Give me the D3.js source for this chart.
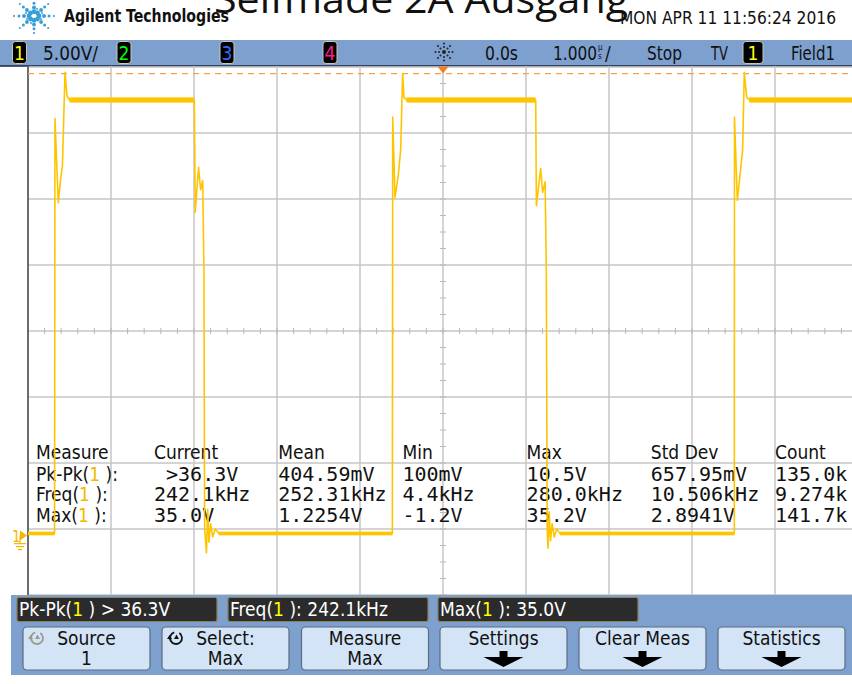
<!DOCTYPE html>
<html>
<head>
<meta charset="utf-8">
<script src="https://cdn.jsdelivr.net/npm/d3@7"></script>
<style>
  html, body { margin: 0; padding: 0; background: #fff; }
  svg { display: block; }
  .ui { font-family: 'Liberation Sans Narrow', 'Arial Narrow', 'DejaVu Sans Condensed', sans-serif; }
  .mono { font-family: 'DejaVu Sans Mono', 'Liberation Mono', monospace; white-space: pre; }
</style>
</head>
<body>
<div id="chart"></div>
<script>
// ---- data ----
var timeDivs = [-5, -4, -3, -2, -1, 0, 1, 2, 3, 4, 5];          // µs, 1 µs/div
var voltDivs = [-4.5, 0.5, 5.5, 10.5, 15.5, 20.5, 25.5, 30.5, 35.5]; // V, 5 V/div

// channel 1 trace (time in µs, volts)
var waveT = [-5.00, -4.68, -4.675, -4.635, -4.606, -4.585, -4.570, -4.554, -4.530, -4.500,
             -2.996, -2.985, -2.945, -2.920, -2.895, -2.880, -2.872, -2.850, -2.835, -2.820, -2.800, -2.775, -2.745, -2.700,
             -0.610, -0.606, -0.578, -0.539, -0.510, -0.486, -0.470, -0.440,
             1.117, 1.125, 1.177, 1.200, 1.230, 1.245, 1.255, 1.265, 1.280, 1.295, 1.315, 1.340, 1.370, 1.410,
             3.510, 3.512, 3.546, 3.578, 3.610, 3.630, 3.659, 3.690, 5.00];
var waveV = [0.15, 0.15, 31.6, 25.2, 27.1, 28.0, 31.5, 35.1, 33.3, 33.0,
             33.0, 24.5, 27.9, 26.2, 26.9, 20.0, 0.5, -1.3, 2.0, -0.5, 0.9, -0.1, 0.5, 0.15,
             0.15, 31.7, 25.6, 27.3, 29.2, 35.0, 33.2, 33.0,
             33.0, 25.0, 27.8, 26.0, 26.8, 20.0, 0.5, -0.95, 1.8, -0.4, 0.9, -0.1, 0.5, 0.15,
             0.15, 31.7, 25.4, 27.3, 29.2, 35.1, 33.2, 33.0, 33.0];

// noisy plateaus: [t start, t end, v low, v high]
var plateaus = [[-4.50, -3.00, 32.8, 33.2], [-0.44, 1.117, 32.8, 33.2], [3.69, 5.00, 32.8, 33.2],
                [-5.00, -4.68, 0.02, 0.30], [-2.70, -0.61, 0.02, 0.30], [1.41, 3.51, 0.02, 0.30]];

var maxMarker = 35.0; // Max(1) cursor level

var statCols = ["Current", "Mean", "Min", "Max", "Std Dev", "Count"];
var measNames = ["Pk-Pk", "Freq", "Max"];
var measValues = [
  [" >36.3V", "404.59mV", "100mV", "10.5V", "657.95mV", "135.0k"],
  ["242.1kHz", "252.31kHz", "4.4kHz", "280.0kHz", "10.506kHz", "9.274k"],
  ["35.0V", "1.2254V", "-1.2V", "35.2V", "2.8941V", "141.7k"]
];
var statusBoxes = [["Pk-Pk(", ") > 36.3V"], ["Freq(", "): 242.1kHz"], ["Max(", "): 35.0V"]];
var softKeys = [["Source", "1"], ["Select:", "Max"], ["Measure", "Max"], ["Settings", ""], ["Clear Meas", ""], ["Statistics", ""]];

// ---- layout ----
var W = 852, H = 684;
var plot = { left: 28, right: 852, top: 66, bottom: 595 };

var x = d3.scaleLinear().domain([-5, 5]).range([28, 858]);
var y = d3.scaleLinear().domain([-4.5, 35.5]).range([595, 67]);

var svg = d3.select('#chart').append('svg')
    .attr('width', W).attr('height', H);

svg.append('rect').attr('width', W).attr('height', H).attr('fill', '#fff');

// ---- title strip ----
svg.append('text')
    .attr('x', 214).attr('y', 13)
    .attr('textLength', 414).attr('lengthAdjust', 'spacingAndGlyphs')
    .style('font-family', "'Open Sans', 'Noto Sans', sans-serif")
    .style('font-size', '38px').attr('fill', '#111')
    .text('Selfmade 2A Ausgang');

// Agilent spark logo
var logo = svg.append('g').attr('transform', 'translate(34,16)');
d3.range(8).forEach(function (k) {
  var a = k * Math.PI / 4;
  [5, 10, 15, 20].forEach(function (r, j) {
    logo.append('circle')
        .attr('cx', Math.cos(a) * r).attr('cy', Math.sin(a) * r * 0.85)
        .attr('r', 2.4 - j * 0.45).attr('fill', '#3a9fd6');
  });
});
[[7, 3], [-7, 3], [3, -7], [-3, 7], [8, -3], [-8, -3]].forEach(function (p) {
  logo.append('circle').attr('cx', p[0]).attr('cy', p[1]).attr('r', 1.2).attr('fill', '#6bbbe6');
});

svg.append('text').attr('class', 'ui')
    .attr('x', 64).attr('y', 22)
    .attr('textLength', 165).attr('lengthAdjust', 'spacingAndGlyphs')
    .style('font-size', '18px').style('font-weight', 'bold').attr('fill', '#111')
    .text('Agilent Technologies');

svg.append('text').attr('class', 'ui')
    .attr('x', 620).attr('y', 24)
    .attr('textLength', 216).attr('lengthAdjust', 'spacingAndGlyphs')
    .style('font-size', '18px').attr('fill', '#111')
    .text('MON APR 11 11:56:24 2016');

// ---- header bar ----
svg.append('rect').attr('x', 0).attr('y', 40).attr('width', W).attr('height', 26).attr('fill', '#7ea0cf');
svg.append('line').attr('x1', 0).attr('x2', W).attr('y1', 66).attr('y2', 66)
    .attr('stroke', '#1d2440').attr('stroke-width', 1.5);

function chanBox(x0, w, label, color) {
  svg.append('rect').attr('x', x0).attr('y', 41.5).attr('width', w).attr('height', 22).attr('rx', 3)
      .attr('fill', '#000').attr('stroke', '#c8c8b8').attr('stroke-width', 1);
  svg.append('text').attr('class', 'ui').attr('x', x0 + w / 2).attr('y', 60)
      .attr('text-anchor', 'middle').style('font-size', '19px').attr('fill', color).text(label);
}
chanBox(12.5, 14, '1', '#ffff00');
chanBox(117, 14, '2', '#00ff00');
chanBox(220, 14, '3', '#2f6bff');
chanBox(323, 14, '4', '#ff1a8c');
chanBox(743, 20, '1', '#ffff00');

function headText(x0, w, s) {
  return svg.append('text').attr('class', 'ui').attr('x', x0).attr('y', 60)
      .attr('textLength', w).attr('lengthAdjust', 'spacingAndGlyphs')
      .style('font-size', '19px').attr('fill', '#111').text(s);
}
headText(43, 55, '5.00V/');
headText(485, 33, '0.0s');
headText(647, 35, 'Stop');
headText(711, 17, 'TV');
headText(791, 44, 'Field1');
// time base with stacked µs unit
var tb = svg.append('text').attr('class', 'ui').attr('x', 553).attr('y', 60)
    .style('font-size', '19px').attr('fill', '#111');
tb.append('tspan').attr('textLength', 44).attr('lengthAdjust', 'spacingAndGlyphs').text('1.000');
tb.append('tspan').attr('x', 598).attr('y', 50).style('font-size', '8px').text('µ');
tb.append('tspan').attr('x', 598).attr('y', 59).style('font-size', '8px').text('s');
tb.append('tspan').attr('x', 605).attr('y', 60).text('/');

// acquisition sun icon
var sun = svg.append('g').attr('transform', 'translate(444,52)');
sun.append('circle').attr('r', 2).attr('fill', '#222');
d3.range(8).forEach(function (k) {
  var a = k * Math.PI / 4;
  [5, 8.5].forEach(function (r) {
    sun.append('circle').attr('cx', Math.cos(a) * r).attr('cy', Math.sin(a) * r).attr('r', 1).attr('fill', '#222');
  });
});

// ---- graticule ----
var grid = svg.append('g');
grid.selectAll('.vg').data(timeDivs).enter().append('line')
    .attr('x1', function (d) { return x(d); }).attr('x2', function (d) { return x(d); })
    .attr('y1', plot.top).attr('y2', plot.bottom)
    .attr('stroke', '#c6c6c6').attr('stroke-width', 1.5);
grid.selectAll('.hg').data(voltDivs).enter().append('line')
    .attr('x1', plot.left).attr('x2', plot.right)
    .attr('y1', function (d) { return y(d); }).attr('y2', function (d) { return y(d); })
    .attr('stroke', '#c6c6c6').attr('stroke-width', 1.5);

// minor ticks on the centre lines
grid.selectAll('.tx').data(d3.range(-5, 5.01, 0.2)).enter().append('line')
    .attr('x1', function (d) { return x(d); }).attr('x2', function (d) { return x(d); })
    .attr('y1', y(15.5) - 3).attr('y2', y(15.5) + 3)
    .attr('stroke', '#b8b8b8').attr('stroke-width', 1);
grid.selectAll('.ty').data(d3.range(-4.5, 35.51, 1.25)).enter().append('line')
    .attr('x1', x(0) - 3).attr('x2', x(0) + 3)
    .attr('y1', function (d) { return y(d); }).attr('y2', function (d) { return y(d); })
    .attr('stroke', '#b8b8b8').attr('stroke-width', 1);

svg.append('line').attr('x1', plot.left).attr('x2', plot.left).attr('y1', plot.top).attr('y2', plot.bottom)
    .attr('stroke', '#4a4a4a').attr('stroke-width', 1.5);

// Max(1) cursor
svg.append('line').attr('x1', plot.left).attr('x2', plot.right)
    .attr('y1', y(maxMarker)).attr('y2', y(maxMarker))
    .attr('stroke', '#f7a24a').attr('stroke-width', 1.3).attr('stroke-dasharray', '6,5');

// trigger position marker
svg.append('path')
    .attr('d', 'M' + (x(0) - 5.5) + ',66.5 L' + (x(0) + 5.5) + ',66.5 L' + x(0) + ',73.5 Z')
    .attr('fill', '#f47f1f');

// ---- measurement table (behind trace) ----
var colX = statCols.map(function (d, i) { return 154 + i * 124.2; });
var table = svg.append('g');
table.append('text').attr('class', 'ui').attr('x', 36).attr('y', 459)
    .style('font-size', '19px').attr('fill', '#111').text('Measure');
table.selectAll('.ch').data(statCols).enter().append('text').attr('class', 'ui')
    .attr('x', function (d, i) { return colX[i]; }).attr('y', 459)
    .style('font-size', '19px').attr('fill', '#111').text(function (d) { return d; });

measNames.forEach(function (name, r) {
  var ty = 481 + r * 20.3;
  var t = table.append('text').attr('class', 'ui').attr('x', 36).attr('y', ty)
      .style('font-size', '19px').attr('fill', '#111');
  t.append('tspan').text(name + '(');
  t.append('tspan').attr('fill', '#f5b800').text('1');
  t.append('tspan').text(' ):');
  measValues[r].forEach(function (v, c) {
    table.append('text').attr('class', 'mono').attr('x', colX[c]).attr('y', ty)
        .style('font-size', '20px').attr('fill', '#111').text(v);
  });
});

// ---- channel 1 trace ----
var clip = svg.append('clipPath').attr('id', 'plotclip');
clip.append('rect').attr('x', plot.left).attr('y', plot.top).attr('width', plot.right - plot.left).attr('height', plot.bottom - plot.top);

var traceG = svg.append('g').attr('clip-path', 'url(#plotclip)');
traceG.selectAll('.pl').data(plateaus).enter().append('rect')
    .attr('x', function (d) { return x(d[0]); })
    .attr('width', function (d) { return x(d[1]) - x(d[0]); })
    .attr('y', function (d) { return y(d[3]); })
    .attr('height', function (d) { return y(d[2]) - y(d[3]); })
    .attr('fill', '#ffc400');

var line = d3.line()
    .x(function (d, i) { return x(waveT[i]); })
    .y(function (d, i) { return y(waveV[i]); });
traceG.append('path').datum(waveT)
    .attr('d', line)
    .attr('fill', 'none').attr('stroke', '#ffc400').attr('stroke-width', 1.6)
    .attr('stroke-linejoin', 'round');

// ground reference marker
var gnd = svg.append('g').attr('transform', 'translate(0,' + y(0) + ')');
gnd.append('text').attr('class', 'ui').attr('x', 12).attr('y', 6).style('font-size', '15px').attr('fill', '#f5b800').text('1');
gnd.append('path').attr('d', 'M20,-5 L27,0 L20,5 Z').attr('fill', '#f5b800');
gnd.append('path').attr('d', 'M20,0 V8 M14,8 H26 M16,11 H24 M18,14 H22')
    .attr('stroke', '#f5b800').attr('stroke-width', 1.2).attr('fill', 'none');

// ---- bottom soft-key panel ----
svg.append('rect').attr('x', 11).attr('y', 595).attr('width', W - 11).attr('height', 80).attr('fill', '#7ea0cf');

var boxX = [17, 228, 438];
statusBoxes.forEach(function (b, i) {
  svg.append('rect').attr('x', boxX[i]).attr('y', 597.5).attr('width', 200).attr('height', 24).attr('rx', 2)
      .attr('fill', '#2b2b2b').attr('stroke', '#8c7f55').attr('stroke-width', 1.2);
  var t = svg.append('text').attr('class', 'ui').attr('x', boxX[i] + 2).attr('y', 616)
      .style('font-size', '19px').attr('fill', '#fff');
  t.append('tspan').text(b[0]);
  t.append('tspan').attr('fill', '#ffff00').text('1');
  t.append('tspan').text(' ' + b[1]);
});

var keyX = [23, 162, 301.5, 440, 579, 718];
softKeys.forEach(function (k, i) {
  var kx = keyX[i], cx = kx + 63.5;
  svg.append('rect').attr('x', kx).attr('y', 627).attr('width', 127).attr('height', 43).attr('rx', 4)
      .attr('fill', '#d4e4f7').attr('stroke', '#5d6b80').attr('stroke-width', 1.2);
  svg.append('text').attr('class', 'ui').attr('x', cx).attr('y', 645)
      .attr('text-anchor', 'middle').style('font-size', '19px').attr('fill', '#111').text(k[0]);
  if (k[1]) {
    svg.append('text').attr('class', 'ui').attr('x', cx).attr('y', 665)
        .attr('text-anchor', 'middle').style('font-size', '19px').attr('fill', '#111').text(k[1]);
  } else {
    svg.append('path')
        .attr('d', 'M' + (cx - 4) + ',651 H' + (cx + 4) + ' V657 H' + (cx + 20) + ' L' + cx + ',667 L' + (cx - 20) + ',657 H' + (cx - 4) + ' Z')
        .attr('fill', '#000');
  }
});

// rotary-knob icons on the first two keys
function knob(cx, cy, color) {
  var g = svg.append('g').attr('transform', 'translate(' + cx + ',' + cy + ')');
  g.append('path').attr('d', d3.arc()({ innerRadius: 6, outerRadius: 6, startAngle: 0.6, endAngle: 2 * Math.PI - 0.3 }))
      .attr('fill', 'none').attr('stroke', color).attr('stroke-width', 1.8);
  g.append('path').attr('d', 'M-9,1 L-4,1 L-6.5,-3 Z M-2,1 L3,1 L0.5,-3.5 Z').attr('fill', color);
}
knob(37, 638, '#9a9a8a');
knob(176, 638, '#111');
</script>
</body>
</html>
